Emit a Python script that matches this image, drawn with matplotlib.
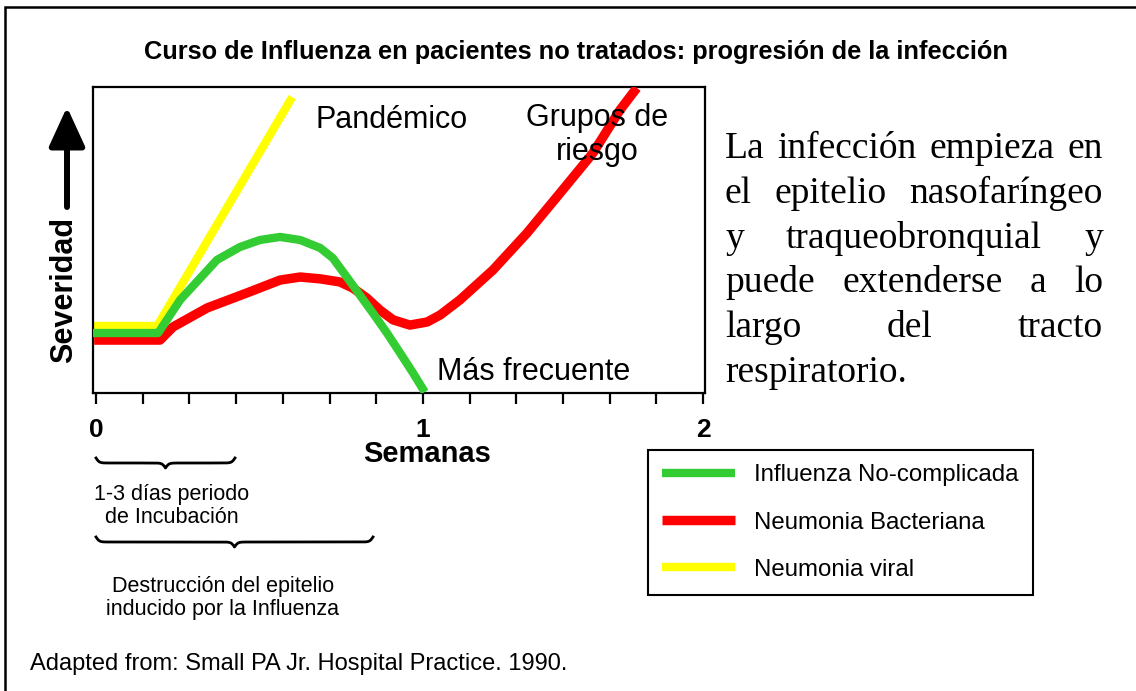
import numpy as np
import matplotlib.pyplot as plt

# eje x en dias (0..13), severidad relativa 0..100
dias = np.arange(14)
etiquetas_dias = ["0", "", "", "", "", "", "", "1", "", "", "", "", "", "2"]

x_viral = [-0.05, 1.31, 4.20]
y_viral = [21.9, 21.9, 96.7]

x_gripe = [-0.1, 1.33, 1.80, 2.59, 3.08, 3.51, 3.94, 4.37, 4.80, 5.07, 5.37,
           5.65, 5.93, 6.23, 6.51, 6.79, 7.04]
y_gripe = [19.6, 19.6, 30.4, 43.5, 47.7, 50.0, 51.0, 50.0, 47.4, 44.1, 37.9,
           32.0, 26.1, 19.6, 13.1, 6.5, 0.3]

x_bact = [-0.04, 1.37, 1.65, 2.38, 3.23, 3.94, 4.37, 4.80, 5.22, 5.50, 5.80,
          6.08, 6.36, 6.72, 7.09, 7.37, 7.79, 8.50, 9.23, 9.94, 10.64, 11.22, 11.58]
y_bact = [17.3, 17.3, 21.6, 27.8, 32.7, 36.9, 37.9, 37.3, 36.3, 34.3, 31.0,
          27.1, 23.9, 22.2, 23.2, 25.5, 30.4, 40.2, 52.3, 65.4, 78.4, 92.5, 99.7]

series = ["Influenza No-complicada", "Neumonia Bacteriana", "Neumonia viral"]
colores = ["#33cc33", "#ff0000", "#ffff00"]

parrafo = ["La infección empieza en", "el epitelio nasofaríngeo",
           "y traqueobronquial y", "puede extenderse a lo",
           "largo del tracto", "respiratorio."]

W, H = 1136, 691
fig = plt.figure(figsize=(W / 100, H / 100), dpi=100)
plt.rcParams['font.family'] = ['Liberation Sans', 'DejaVu Sans']

# capa en pixeles para marco, llaves y parrafo
capa = fig.add_axes([0, 0, 1, 1])
capa.set_xlim(0, W)
capa.set_ylim(H, 0)
capa.axis('off')

ax = fig.add_axes([93 / W, 1 - 393 / H, 612 / W, 306 / H])
ax.set_xlim(-0.065, 13.04)
ax.set_ylim(0, 100)

l_viral, = ax.plot(x_viral, y_viral, color=colores[2], lw=6, solid_capstyle='butt', zorder=2)
l_bact, = ax.plot(x_bact, y_bact, color=colores[1], lw=6.8, solid_capstyle='butt', zorder=3)
l_gripe, = ax.plot(x_gripe, y_gripe, color=colores[0], lw=6, solid_capstyle='butt', zorder=4)

for s in ax.spines.values():
    s.set_linewidth(1.6)
ax.set_yticks([])
ax.set_xticks(dias, etiquetas_dias)
ax.tick_params(axis='x', direction='out', length=8, width=1.6, pad=10,
               labelsize=19)
for t in ax.get_xticklabels():
    t.set_fontweight('bold')

ax.set_xlabel("Semanas", fontsize=21, fontweight='bold')
ax.xaxis.set_label_coords((427 - 93) / 612, (393 - 440) / 306)
ax.set_ylabel("Severidad", fontsize=22, fontweight='bold', va='center')
ax.yaxis.set_label_coords((64 - 93) / 612, (393 - 290) / 306)

ax.annotate("", xy=((67 - 93) / 612, (393 - 107) / 306),
            xytext=((67 - 93) / 612, (393 - 207) / 306),
            xycoords='axes fraction', annotation_clip=False,
            arrowprops=dict(arrowstyle='-|>,head_length=1.2,head_width=0.55',
                            mutation_scale=20, lw=4.3, color='black',
                            shrinkA=0, shrinkB=0))

ax.text(4.69, 86.6, "Pandémico", fontsize=22, va='baseline')
ax.text(10.73, 76.1, "Grupos de\nriesgo", fontsize=22, ha='center',
        va='baseline', zorder=5)
ax.text(7.30, 4.25, "Más frecuente", fontsize=22, va='baseline')

fig.text(576 / W, 1 - 52 / H,
         "Curso de Influenza en pacientes no tratados: progresión de la infección",
         ha='center', va='center', fontsize=18.3, fontweight='bold')

fig.legend([l_gripe, l_bact, l_viral], series, loc='upper left',
           bbox_to_anchor=(648 / W, 1 - 450 / H), borderaxespad=0,
           fontsize=17.3, handlelength=3.0, handletextpad=0.8,
           labelspacing=1.05, borderpad=0.6, fancybox=False,
           framealpha=1, edgecolor='black').get_frame().set_linewidth(1.5)

# marco exterior
capa.plot([5, 5, W], [H, 7, 7], color='black', lw=1.8, solid_joinstyle='miter')


def llave(x0, x1, y, d, beta=0.6):
    xs = np.linspace(x0, x1, 401)
    mitad = xs[:201]
    v = 1 / (1 + np.exp(-beta * (mitad - mitad[0]))) + \
        1 / (1 + np.exp(-beta * (mitad - mitad[-1])))
    v = np.concatenate([v, v[::-1][1:]])
    return xs, y + (v - 0.5) * d


for x0, x1, y0 in [(96, 235, 458), (96, 373, 537)]:
    bx, by = llave(x0, x1, y0, 10)
    capa.plot(bx, by, color='black', lw=2)

capa.text(172, 523, "1-3 días periodo\nde Incubación", fontsize=15.5,
          ha='center', va='baseline', linespacing=1.15)
capa.text(223, 615, "Destrucción del epitelio\ninducido por la Influenza",
          fontsize=15.5, ha='center', va='baseline', linespacing=1.15)

capa.text(30, 670, "Adapted from: Small PA Jr. Hospital Practice. 1990.",
          fontsize=17, va='baseline')

# parrafo justificado a la derecha del grafico
renderer = fig.canvas.get_renderer()
x_izq, x_der, y0, paso = 725, 1103, 158, 44.8
for i, linea in enumerate(parrafo):
    y = y0 + i * paso
    palabras = linea.split()
    if i == len(parrafo) - 1:
        capa.text(x_izq, y, linea, family='Liberation Serif', fontsize=27,
                  va='baseline')
        continue
    textos = [capa.text(0, y, p, family='Liberation Serif', fontsize=27,
                        va='baseline') for p in palabras]
    anchos = [t.get_window_extent(renderer).width for t in textos]
    hueco = (x_der - x_izq - sum(anchos)) / (len(palabras) - 1)
    x = x_izq
    for t, a in zip(textos, anchos):
        t.set_x(x)
        x += a + hueco

fig.savefig("out.png", dpi=100)
